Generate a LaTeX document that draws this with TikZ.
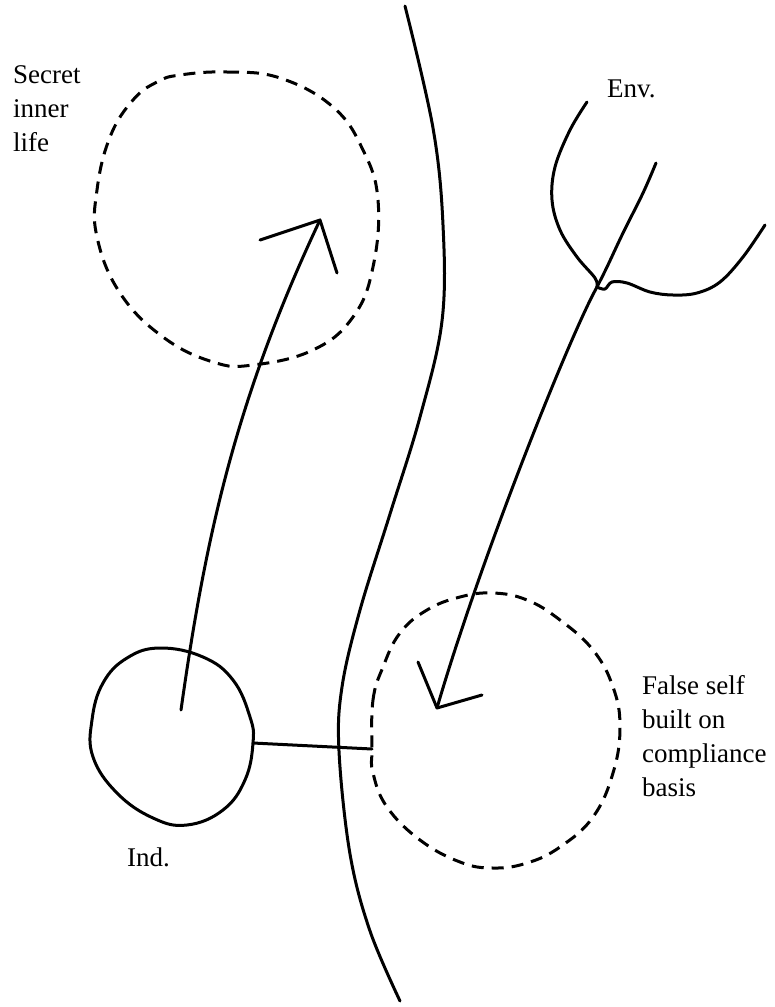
\documentclass[tikz,border=0pt]{standalone}
\usepackage{fontspec}
\setmainfont{Liberation Serif}
\usetikzlibrary{positioning}

\begin{document}
\begin{tikzpicture}[x=1pt,y=-1pt,
    stroke/.style={draw=black,line width=3pt,line cap=round,line join=round},
    dashring/.style={draw=black,line width=3pt,dash pattern=on 12pt off 8pt},
    lbl/.style={font=\fontsize{27}{34}\selectfont,inner sep=0pt,align=left}]
  \useasboundingbox (0,0) rectangle (775,1007);
  % labels
  \node[lbl,anchor=north west] (secret) at (13,65)  {Secret\\inner\\life};
  \node[lbl,anchor=base west]  (env)    at (607,97) {Env.};
  \node[lbl,anchor=base west]  (ind)    at (127,866) {Ind.};
  \node[lbl,anchor=north west] (false)  at (642,675) {False self\\built on\\compliance\\basis};
  % fixed points
  \coordinate (indC)     at (181,710);
  \coordinate (indE)     at (253,743);
  \coordinate (falseW)   at (372,749);
  \coordinate (innerTip) at (320,220);
  \coordinate (envFork)  at (597,287);
  \coordinate (envTip)   at (437,708);
  % boundary between individual and environment
  \draw[stroke] plot[smooth,tension=0.6] coordinates {(405,6) (433,128) (443,225)
    (442,321) (420,417) (390,514) (360,610) (342,687) (339,751) (350,854)
    (370,931) (400,1001)};
  % individual
  \draw[stroke] plot[smooth cycle,tension=0.7] coordinates {(160,648) (203,657)
    (233,680) (250,717) (indE) (245,780) (223,810) (187,825) (153,818)
    (117,793) (93,757) (92,720) (103,683) (127,658)};
  % secret inner life
  \draw[dashring] plot[smooth cycle,tension=0.7] coordinates {(180,75) (227,72)
    (280,78) (333,107) (363,150) (378,200) (373,267) (353,317) (313,350)
    (253,365) (213,362) (163,337) (120,293) (97,237) (97,190) (110,137)
    (133,100) (157,82)};
  % false self
  \draw[dashring] plot[smooth cycle,tension=0.7] coordinates {(falseW) (373,700)
    (383,667) (400,633) (427,610) (460,597) (493,593) (527,600) (560,620)
    (593,650) (613,687) (620,727) (613,773) (593,817) (560,847) (527,863)
    (493,868) (460,862) (420,840) (387,807) (373,773)};
  % environment
  \draw[stroke] plot[smooth,tension=0.6] coordinates {(587,102) (570,130)
    (555,167) (552,200) (560,230) (577,257) (595,278) (envFork)};
  \draw[stroke] plot[smooth,tension=0.6] coordinates {(656,163) (643,193)
    (623,233) (607,267) (envFork)};
  \draw[stroke] plot[smooth,tension=0.6] coordinates {(envFork) (605,289)
    (612,282) (627,283) (650,292) (673,295) (697,293) (720,282) (743,257)
    (765,225)};
  % arrows
  \draw[stroke] (indC) .. controls (205,540) and (235,400) .. (innerTip);
  \draw[stroke] (260,240) -- (innerTip) -- (337,273);
  \draw[stroke] (envFork) .. controls (570,335) and (480,560) .. (envTip);
  \draw[stroke] (418,662) -- (envTip) -- (482,695);
  % link
  \draw[stroke] (indE) -- (falseW);
\end{tikzpicture}
\end{document}
